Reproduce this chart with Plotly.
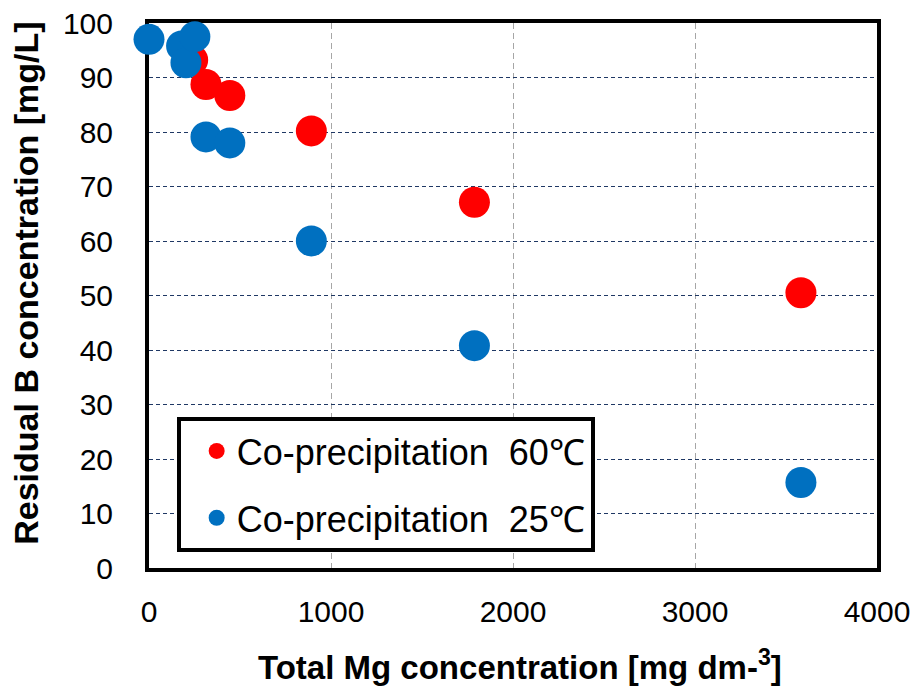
import plotly.graph_objects as go

# Total Mg concentration [mg dm-3] and residual B concentration [mg/L]
mg_60 = [240, 313, 444, 892, 1788, 3582]
b_60 = [93.2, 88.7, 86.7, 80.2, 67.1, 50.5]

mg_25 = [0, 179, 203, 252, 313, 444, 892, 1788, 3582]
b_25 = [97.0, 95.8, 92.7, 97.5, 79.1, 78.0, 60.0, 40.8, 15.7]

x_ticks = [0, 1000, 2000, 3000, 4000]
y_ticks = [0, 10, 20, 30, 40, 50, 60, 70, 80, 90, 100]

FONT = "Arial, Liberation Sans, sans-serif"

fig = go.Figure()
fig.add_trace(go.Scatter(
    x=mg_60, y=b_60, mode="markers", name="Co-precipitation\u00a0\u00a060\u2103",
    marker=dict(color="#FF0000", size=31, line=dict(width=0)),
    cliponaxis=False, legendgroup="a",
))
fig.add_trace(go.Scatter(
    x=mg_25, y=b_25, mode="markers", name="Co-precipitation\u00a0\u00a025\u2103",
    marker=dict(color="#0070C0", size=31, line=dict(width=0)),
    cliponaxis=False, legendgroup="b",
))

fig.update_layout(
    width=916, height=691,
    margin=dict(l=149, r=39, t=23, b=123, autoexpand=False),
    paper_bgcolor="white", plot_bgcolor="white",
    font=dict(family=FONT, color="black"),
    showlegend=True,
    legend=dict(
        x=0.038, y=0.277, xanchor="left", yanchor="top",
        bgcolor="white", bordercolor="black", borderwidth=4,
        font=dict(size=36, family=FONT, color="black"),
        traceorder="grouped", tracegroupgap=17, indentation=16,
    ),
    xaxis=dict(
        range=[0, 4000], tickvals=x_ticks, ticks="", ticklabelstandoff=14,
        tickfont=dict(size=30), showline=True, linecolor="black", linewidth=4,
        mirror=True, showgrid=True, gridcolor="#A6A6A6", griddash="6px,4px",
        gridwidth=1, zeroline=False, layer="below traces", automargin=False,
    ),
    yaxis=dict(
        range=[0, 100], tickvals=y_ticks, ticks="", ticklabelstandoff=26,
        tickfont=dict(size=30), showline=True, linecolor="black", linewidth=4,
        mirror=True, showgrid=True, gridcolor="#1F3864", griddash="4px,3px",
        gridwidth=1, zeroline=False, layer="below traces", automargin=False,
    ),
    annotations=[
        dict(text="<b>Total Mg concentration [mg dm-<sup>3</sup>]</b>",
             xref="paper", yref="paper", x=0.51, y=-0.178,
             xanchor="center", yanchor="middle", showarrow=False,
             font=dict(size=33, family=FONT, color="black")),
        dict(text="<b>Residual B concentration [mg/L]</b>",
             xref="paper", yref="paper", x=-0.170, y=0.522,
             xanchor="center", yanchor="middle", textangle=-90,
             showarrow=False, font=dict(size=34, family=FONT, color="black")),
    ],
)

fig.write_html("out.html")
